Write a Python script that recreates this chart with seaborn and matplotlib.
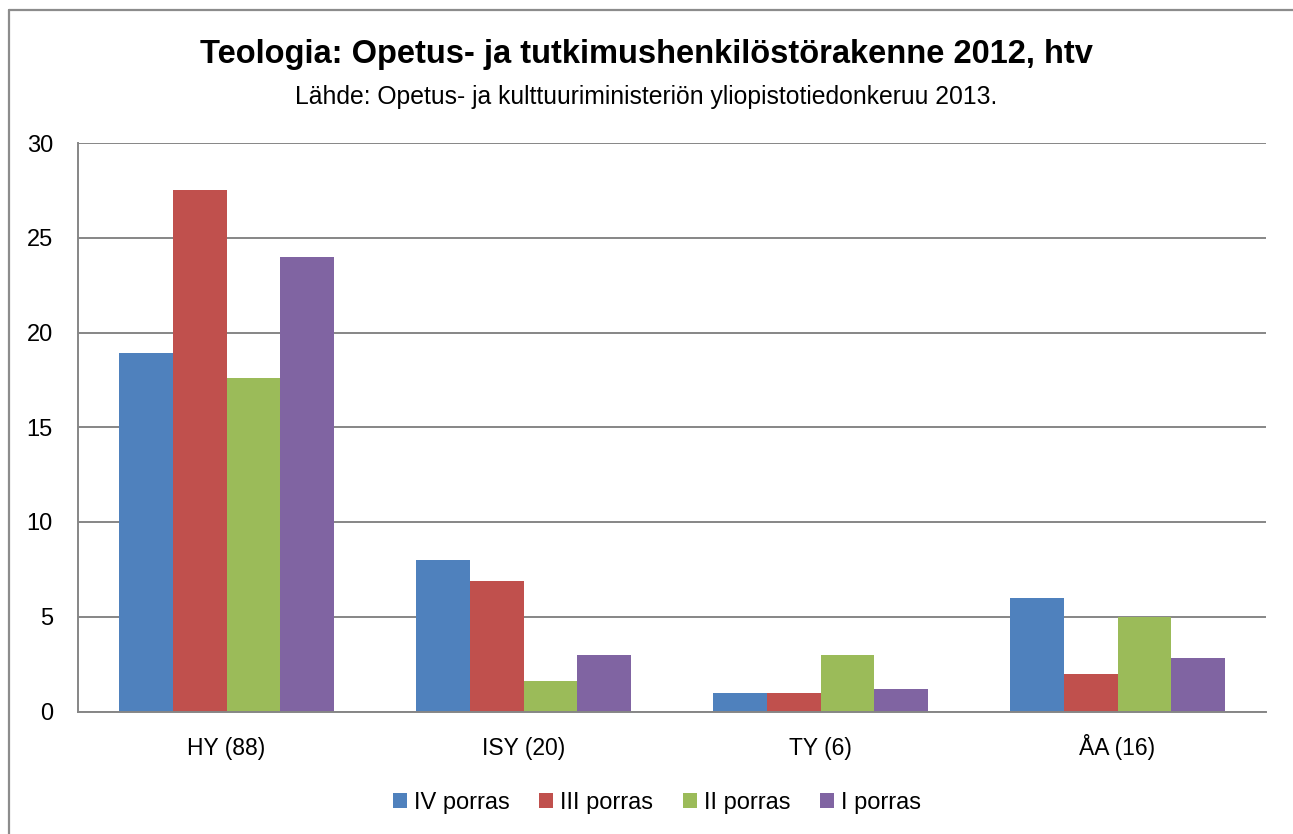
import matplotlib
matplotlib.use("Agg")
import matplotlib.pyplot as plt
import seaborn as sns
import pandas as pd
from matplotlib.lines import Line2D
from matplotlib.patches import Patch

categories = ["HY (88)", "ISY (20)", "TY (6)", "ÅA (16)"]
series_names = ["IV porras", "III porras", "II porras", "I porras"]
iv_porras = [18.9, 8.0, 1.0, 6.0]
iii_porras = [27.5, 6.9, 1.0, 2.0]
ii_porras = [17.6, 1.6, 3.0, 5.0]
i_porras = [24.0, 3.0, 1.2, 2.8]
colors = ["#4F81BD", "#C0504D", "#9BBB59", "#8064A2"]
title = "Teologia: Opetus- ja tutkimushenkilöstörakenne 2012, htv"
subtitle = "Lähde: Opetus- ja kulttuuriministeriön yliopistotiedonkeruu 2013."

values = [iv_porras, iii_porras, ii_porras, i_porras]
rows = []
for s, vals in zip(series_names, values):
    for c, v in zip(categories, vals):
        rows.append({"cat": c, "series": s, "value": v})
df = pd.DataFrame(rows)

sns.set_style("white")
plt.rcParams['font.family'] = ['Liberation Sans', 'DejaVu Sans']
plt.rcParams['text.color'] = 'black'

W, H = 1293, 834
fig = plt.figure(figsize=(W / 100, H / 100), dpi=100)
ax = fig.add_axes([78 / W, 1 - 711.5 / H, (1266 - 78) / W, (711.5 - 143) / H])

sns.barplot(data=df, x="cat", y="value", hue="series", order=categories,
            hue_order=series_names, palette=colors, saturation=1,
            width=0.724, gap=0, ax=ax, legend=False, errorbar=None,
            edgecolor="none", linewidth=0)

grid_c = "#868686"
ax.set_ylim(0, 30)
ax.set_yticks(range(0, 31, 5))
ax.set_xlim(-0.5, 3.5)
ax.yaxis.grid(True, color=grid_c, linewidth=1.4)
ax.set_axisbelow(True)
ax.set_xlabel("")
ax.set_ylabel("")
for side in ["top", "right"]:
    ax.spines[side].set_visible(False)
for side in ["left", "bottom"]:
    ax.spines[side].set_color(grid_c)
    ax.spines[side].set_linewidth(1.4)

ax.tick_params(axis="y", length=6, width=1.4, color=grid_c, direction="out",
               pad=12, labelsize=17, labelcolor="black")
ax.set_xticks(range(len(categories)))
ax.set_xticklabels(categories)
ax.tick_params(axis="x", which="major", length=0, pad=31, labelsize=16.5, labelcolor="black")
ax.set_xticks([-0.5, 0.5, 1.5, 2.5, 3.5], minor=True)
ax.tick_params(axis="x", which="minor", length=6, width=1.4, color=grid_c, direction="out")
plt.setp(ax.get_xticklabels(), va="baseline")

fig.text(0.5, 1 - 55 / H, title, ha="center", va="center", fontsize=23.5,
         fontweight="bold", color="black")
fig.text(0.5, 1 - 97 / H, subtitle, ha="center", va="center", fontsize=17.8,
         color="black")

handles = [Patch(facecolor=c, edgecolor="none") for c in colors]
fig.legend(handles, series_names, loc="center", bbox_to_anchor=(657 / W, 1 - 803 / H),
           ncol=4, frameon=False, fontsize=17, handlelength=0.6, handleheight=0.6,
           handletextpad=0.3, columnspacing=1.25)

frame_c = "#8c8c8c"
fig.add_artist(Line2D([8.5 / W, 1.0], [1 - 10 / H, 1 - 10 / H], color=frame_c, linewidth=1.6,
                      transform=fig.transFigure))
fig.add_artist(Line2D([8.5 / W, 8.5 / W], [0, 1 - 10 / H], color=frame_c, linewidth=1.6,
                      transform=fig.transFigure))

fig.savefig("out.png", dpi=100)
